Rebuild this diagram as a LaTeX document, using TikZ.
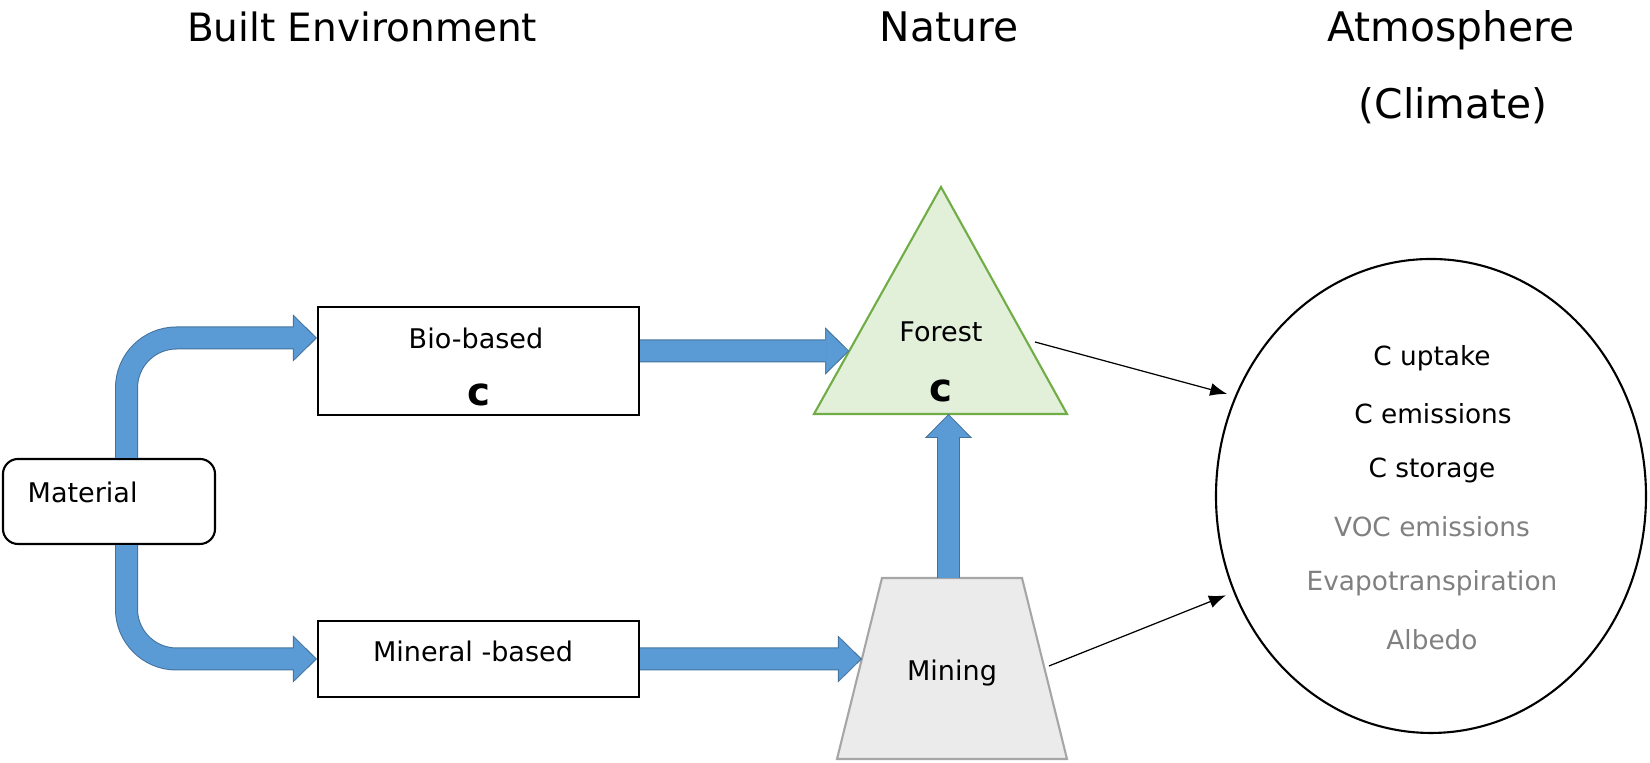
\documentclass[tikz,border=0pt]{standalone}
\usepackage{fontspec}
\setmainfont{DejaVu Sans}
\usetikzlibrary{arrows.meta,calc,shapes.geometric}

\definecolor{flowfill}{HTML}{5B9BD5}
\definecolor{flowline}{HTML}{41719C}
\definecolor{forestfill}{HTML}{E2F0D9}
\definecolor{forestline}{HTML}{70AD47}
\definecolor{minefill}{HTML}{EBEBEB}
\definecolor{mineline}{HTML}{A6A6A6}
\definecolor{softgray}{HTML}{808080}

\tikzset{
  heading/.style={anchor=base, font=\fontsize{11.6}{14}\selectfont},
  boxtext/.style={inner sep=0pt, font=\fontsize{7.7}{9}\selectfont},
  climtext/.style={inner sep=0pt, font=\fontsize{7.5}{9}\selectfont},
  carbon/.style={inner sep=0pt, font=\fontsize{11}{13}\selectfont\bfseries},
  stage/.style={draw, line width=0.6pt, fill=white, inner sep=0pt},
  flowedge/.style={draw=flowline, line width=2.3mm, -{Triangle[length=2.4mm, width=4.7mm, line width=0.1pt]}},
  flow/.style={draw=flowfill, line width=2.1mm, shorten >=0.14mm, -{Triangle[length=2.16mm, width=4.22mm, line width=0.1pt]}},
}

\begin{document}
\begin{tikzpicture}
            \useasboundingbox (0,0) rectangle (16.5,7.63);
            \node[heading, font=\fontsize{11.1}{14}\selectfont] (built) at (3.62,7.21) {Built Environment};
            \node[heading] (nature) at (9.49,7.21) {Nature};
            \node[heading] (atmo) at (14.51,7.21) {Atmosphere};
            \node[heading] (clim) at (14.53,6.44) {(Climate)};

            \node[stage, rounded corners=1.5mm, minimum width=2.12cm, minimum height=0.85cm] (mat) at (1.09,2.615) {};
            \node[boxtext, anchor=west] (matlbl) at ($(mat.west)+(0.25,0.095)$) {Material};

            \node[stage, minimum width=3.21cm, minimum height=1.08cm] (bio) at (4.785,4.02) {};
            \node[boxtext] (biolbl) at (4.76,4.245) {Bio-based};
            \node[carbon] (bioc) at (4.79,3.685) {c};

            \node[stage, minimum width=3.21cm, minimum height=0.76cm] (mineral) at (4.785,1.04) {};
            \node[boxtext] (minlbl) at (4.73,1.115) {Mineral -based};

            % forest triangle
            \coordinate (fbl) at (8.14,3.49);
            \coordinate (ftop) at (9.41,5.76);
            \coordinate (fbr) at (10.67,3.49);
            \draw[forestline, fill=forestfill, line width=0.6pt] (fbl) -- (ftop) -- (fbr) -- cycle;
            \node[boxtext] (forest) at (9.41,4.315) {Forest};
            \node[carbon] (forestc) at (9.41,3.725) {c};

            % mining trapezoid
            \coordinate (mbl) at (8.37,0.04);
            \coordinate (mtl) at (8.82,1.85);
            \coordinate (mtr) at (10.22,1.85);
            \coordinate (mbr) at (10.67,0.04);
            \draw[mineline, fill=minefill, line width=0.6pt] (mbl) -- (mtl) -- (mtr) -- (mbr) -- cycle;
            \node[boxtext, anchor=base] (mining) at (9.52,0.82) {Mining};
            \coordinate (mtop) at ($(mtl)!0.475!(mtr)$);

            \node[ellipse, draw, line width=0.6pt, minimum width=4.30cm, minimum height=4.74cm, inner sep=0pt] (atm) at (14.31,2.67) {};
            \node[climtext] (uptake) at (14.32,4.05) {C uptake};
            \node[climtext] (emis) at (14.33,3.49) {C emissions};
            \node[climtext] (store) at (14.32,2.93) {C storage};
            \node[climtext, softgray] (voc) at (14.32,2.36) {VOC emissions};
            \node[climtext, softgray] (evap) at (14.32,1.80) {Evapotranspiration};
            \node[climtext, softgray] (albedo) at (14.32,1.23) {Albedo};

            % block arrows, outline first
            \foreach \layer in {flowedge,flow} {
                \draw[\layer, rounded corners=5mm] ([xshift=1.75mm]mat.north) |- ([yshift=2.3mm]bio.west);
                \draw[\layer, rounded corners=5mm] ([xshift=1.75mm]mat.south) |- (mineral.west);
                \draw[\layer] ([yshift=1mm]bio.east) -- ($(fbl)!0.2775!(ftop)$);
                \draw[\layer] (mineral.east) -- ($(mbl)!0.5525!(mtl)$);
                \draw[\layer] (mtop) -- (mtop |- fbl);
            }

            \coordinate (fout) at (10.35,4.21);
            \coordinate (mout) at (10.49,0.97);
            \draw[-{Latex[length=1.7mm, width=1.3mm]}, line width=0.35pt, shorten >=0.8mm] (fout) -- (atm.153);
            \draw[-{Latex[length=1.7mm, width=1.3mm]}, line width=0.35pt, shorten >=0.8mm] (mout) -- (atm.206);
        \end{tikzpicture}
\end{document}
